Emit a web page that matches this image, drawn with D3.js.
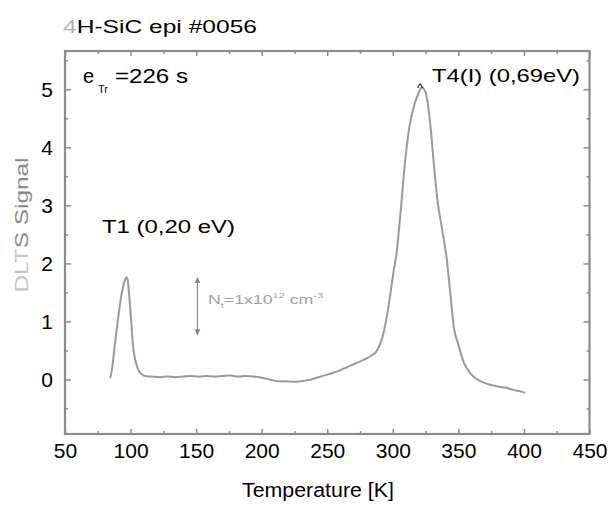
<!DOCTYPE html>
<html><head><meta charset="utf-8">
<script src="https://cdn.jsdelivr.net/npm/d3@7"></script>
<style>
html,body{margin:0;padding:0;background:#fff;}
svg{display:block;font-family:"Liberation Sans",Arial,sans-serif;}
</style></head>
<body><svg id="c" width="613" height="506"></svg>
<script>
// ---- data ----
const temperature = [84.5,86,88,90.7,93,95.5,97,98,99.2,100.5,102,104,106,108,111,116,122,128,134,140,146,152,158,164,170,176,182,188,194,200,206,212,218,224,230,236,242,248,254,260,266,272,278,283,288,292,295.5,298,300.5,303,306,309.5,313,316,319,322,325,327,329,331,334,337.5,341,344,346.5,350,354,358,362,366,370,374,378,382,386,390,394,398,401];
const signal      = [0.02,0.2,0.6,1.09,1.45,1.7,1.76,1.68,1.38,1.0,0.55,0.3,0.16,0.1,0.06,0.05,0.04,0.05,0.04,0.05,0.06,0.05,0.06,0.05,0.06,0.07,0.05,0.06,0.05,0.03,0.0,-0.03,-0.03,-0.04,-0.03,-0.01,0.03,0.07,0.11,0.16,0.22,0.28,0.34,0.4,0.5,0.72,1.09,1.45,1.85,2.2,2.9,3.79,4.4,4.7,4.9,5.03,4.95,4.7,4.3,3.79,3.1,2.6,2.1,1.45,0.9,0.6,0.3,0.14,0.04,-0.02,-0.06,-0.09,-0.11,-0.13,-0.14,-0.17,-0.19,-0.21,-0.23];
const xTicks = [50,100,150,200,250,300,350,400,450];
const xMinor = [75,125,175,225,275,325,375,425];
const yTicks = [0,1,2,3,4,5];
const yMinor = [-0.5,0.5,1.5,2.5,3.5,4.5,5.5];
const xDomain = [50,450];
const yDomain = [-0.94,5.66];
const arrowT = 151, arrowFrom = 0.77, arrowTo = 1.75;

// ---- layout ----
const L=65, R=589.5, T=51, B=434;
const svg = d3.select("#c");
const x = d3.scaleLinear().domain(xDomain).range([L,R]);
const y = d3.scaleLinear().domain(yDomain).range([B,T]);
const frameCol = "#8c8c8c";

function styleAxis(g){
  g.select(".domain").remove();
  g.selectAll(".tick line").attr("stroke",frameCol).attr("stroke-width",1.5);
  g.selectAll(".tick text").attr("fill","#000").attr("font-size",21).attr("font-family","Liberation Sans, Arial, sans-serif");
}
// bottom
svg.append("g").attr("transform",`translate(0,${B})`)
  .call(d3.axisBottom(x).tickValues(xTicks).tickSize(-5).tickPadding(9).tickFormat(d3.format("d"))).call(styleAxis);
svg.append("g").attr("transform",`translate(0,${B})`)
  .call(d3.axisBottom(x).tickValues(xMinor).tickSize(-3).tickFormat("")).call(styleAxis);
// top
svg.append("g").attr("transform",`translate(0,${T})`)
  .call(d3.axisTop(x).tickValues(xTicks).tickSize(-5).tickFormat("")).call(styleAxis);
svg.append("g").attr("transform",`translate(0,${T})`)
  .call(d3.axisTop(x).tickValues(xMinor).tickSize(-3).tickFormat("")).call(styleAxis);
// left
svg.append("g").attr("transform",`translate(${L},0)`)
  .call(d3.axisLeft(y).tickValues(yTicks).tickSize(-6).tickPadding(12).tickFormat(d3.format("d"))).call(styleAxis);
svg.append("g").attr("transform",`translate(${L},0)`)
  .call(d3.axisLeft(y).tickValues(yMinor).tickSize(-3).tickFormat("")).call(styleAxis);
// right
svg.append("g").attr("transform",`translate(${R},0)`)
  .call(d3.axisRight(y).tickValues(yTicks).tickSize(-6).tickFormat("")).call(styleAxis);
svg.append("g").attr("transform",`translate(${R},0)`)
  .call(d3.axisRight(y).tickValues(yMinor).tickSize(-3).tickFormat("")).call(styleAxis);

// frame
svg.append("rect").attr("x",L).attr("y",T).attr("width",R-L).attr("height",B-T)
  .attr("fill","none").attr("stroke",frameCol).attr("stroke-width",2.2);

// curve
const pts = temperature.map((t,i)=>[t,signal[i]]);
svg.append("path").datum(pts)
  .attr("d", d3.line().x(d=>x(d[0])).y(d=>y(d[1])).curve(d3.curveMonotoneX))
  .attr("fill","none").attr("stroke","#9a9a9a").attr("stroke-width",2);

// arrow
const defs = svg.append("defs");
defs.append("marker").attr("id","ah").attr("viewBox","0 0 10 10").attr("refX",9).attr("refY",5)
  .attr("markerWidth",5).attr("markerHeight",6).attr("orient","auto-start-reverse")
  .append("path").attr("d","M0,0 L10,5 L0,10 z").attr("fill","#888");
svg.append("line").attr("x1",x(arrowT)).attr("x2",x(arrowT)).attr("y1",y(arrowFrom)).attr("y2",y(arrowTo))
  .attr("stroke","#888").attr("stroke-width",1.2)
  .attr("marker-start","url(#ah)").attr("marker-end","url(#ah)");

// texts
const title = svg.append("text").attr("x",63).attr("y",33).attr("font-size",19)
  .attr("textLength",194).attr("lengthAdjust","spacingAndGlyphs");
title.append("tspan").attr("fill","#b0b0b0").text("4");
title.append("tspan").attr("fill","#000").text("H-SiC epi #0056");

svg.append("text").attr("x",83).attr("y",83).attr("font-size",20).attr("fill","#000").text("e");
svg.append("text").attr("x",98).attr("y",93).attr("font-size",11).attr("fill","#000").text("Tr");
svg.append("text").attr("x",115).attr("y",83).attr("font-size",20).attr("fill","#000")
  .attr("textLength",73).attr("lengthAdjust","spacingAndGlyphs").text("=226 s");

svg.append("text").attr("x",432).attr("y",82).attr("font-size",19).attr("fill","#000")
  .attr("textLength",148).attr("lengthAdjust","spacingAndGlyphs").text("T4(I) (0,69eV)");
svg.append("text").attr("x",417).attr("y",92).attr("font-size",13).attr("fill","#000").text("^");

svg.append("text").attr("x",102).attr("y",233).attr("font-size",18).attr("fill","#000")
  .attr("textLength",133).attr("lengthAdjust","spacingAndGlyphs").text("T1 (0,20 eV)");

const nt = svg.append("text").attr("x",208).attr("y",304).attr("font-size",13).attr("fill","#a0a0a0")
  .attr("textLength",115).attr("lengthAdjust","spacingAndGlyphs");
nt.append("tspan").text("N");
nt.append("tspan").attr("font-size",8).attr("dy",4).text("t");
nt.append("tspan").attr("dy",-4).text("=1x10");
nt.append("tspan").attr("font-size",8).attr("dy",-6).text("12");
nt.append("tspan").attr("dy",6).text(" cm");
nt.append("tspan").attr("font-size",8).attr("dy",-6).text("-3");

const yl = svg.append("text").attr("transform","translate(28,225) rotate(-90)")
  .attr("text-anchor","middle").attr("font-size",18)
  .attr("textLength",135).attr("lengthAdjust","spacingAndGlyphs");
yl.append("tspan").attr("fill","#c4c4c4").text("DLT");
yl.append("tspan").attr("fill","#8a8a8a").text("S Signal");

svg.append("text").attr("x",318).attr("y",497).attr("text-anchor","middle").attr("font-size",20)
  .attr("fill","#000").attr("textLength",152).attr("lengthAdjust","spacingAndGlyphs").text("Temperature [K]");
</script></body></html>
